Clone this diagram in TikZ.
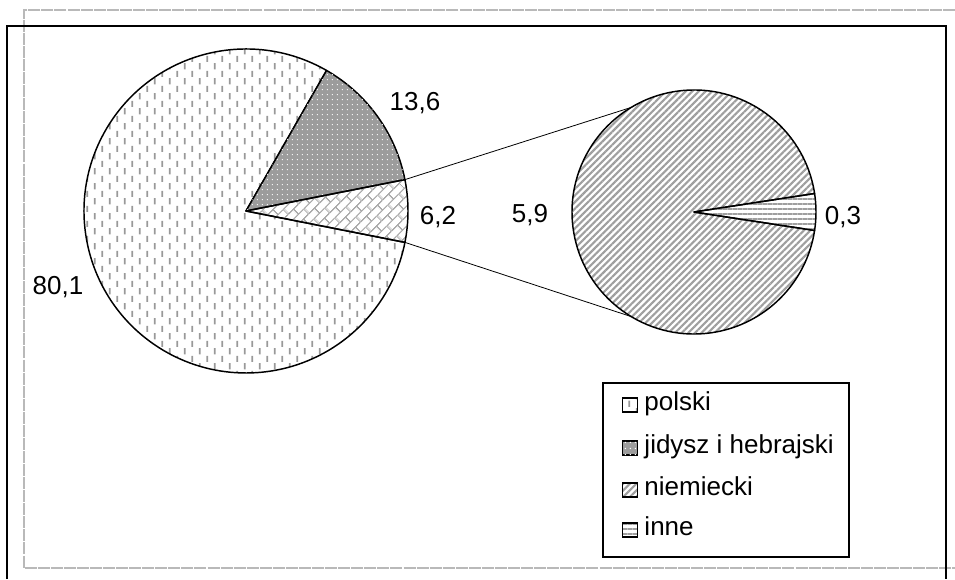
\documentclass[tikz,border=0pt]{standalone}
\usepackage{fontspec}
\setmainfont{Liberation Sans}
\usetikzlibrary{patterns,patterns.meta,positioning}

% fill patterns of the slices
\tikzdeclarepattern{
  name=vdashes,
  type=uncolored,
  bounding box={(0,0) and (11.6pt,11.2pt)},
  tile size={(11.6pt,11.2pt)},
  code={
    \draw[line width=1.2pt] (2.9pt,0.5pt) -- (2.9pt,5.1pt);
    \draw[line width=1.2pt] (8.7pt,6.1pt) -- (8.7pt,10.7pt);
  }
}
\tikzdeclarepattern{
  name=wdots,
  type=uncolored,
  bounding box={(0,0) and (4pt,4pt)},
  tile size={(4pt,4pt)},
  code={
    \fill (2pt,2pt) circle (0.6pt);
  }
}
\tikzdeclarepattern{
  name=dbricks,
  type=uncolored,
  bounding box={(0,0) and (12pt,11pt)},
  tile size={(12pt,11pt)},
  tile transformation={rotate=45},
  code={
    \draw[line width=0.9pt] (0,0) -- (12pt,0) (0,5.5pt) -- (12pt,5.5pt) (0,11pt) -- (12pt,11pt);
    \draw[line width=0.9pt] (0,0) -- (0,5.5pt) (12pt,0) -- (12pt,5.5pt) (6pt,5.5pt) -- (6pt,11pt);
  }
}

\begin{document}
\begin{tikzpicture}[x=0.75pt,y=0.75pt,font=\fontsize{19.5}{23}\selectfont]
    \tikzstyle{slice}=[draw=black,line width=1.1pt,line join=round]
    \tikzstyle{key}=[draw=black,line width=0.8pt,minimum width=11.5pt,minimum height=10.5pt,inner sep=0pt]
    \tikzstyle{val}=[inner sep=0pt]
    \tikzstyle{entry}=[inner sep=0pt,text height=11.5pt,text depth=4pt]
    \tikzstyle{pol}=[pattern=vdashes,pattern color=gray!80]
    \tikzstyle{jid}=[fill=gray!78,postaction={pattern=wdots,pattern color=white}]
    \tikzstyle{oth}=[pattern=dbricks,pattern color=gray!65]
    \tikzstyle{nie}=[pattern={Lines[angle=45,distance=3.5pt,line width=1.6pt]},pattern color=gray!75]
    \tikzstyle{inn}=[pattern={Lines[angle=0,distance=3.75pt,line width=2pt]},pattern color=gray!75]

    \useasboundingbox (0,0) rectangle (955,579);
    \draw [gray!55, line width=1pt, dash pattern=on 9pt off 0.8pt] (955,569) -- (24,569) -- (24,11) -- (955,11);
    \draw [line width=1.5pt] (7,0) -- (7,553) -- (946,553) -- (946,0);

    \coordinate (L) at (246,368);
    \coordinate (R) at (694,367);

    % left pie
    \draw [slice,pol] (L) -- ++(60.18:162) arc[start angle=60.18, end angle=348.83, radius=162] -- cycle;
    \draw [slice,jid] (L) -- ++(11.17:162) arc[start angle=11.17, end angle=60.18, radius=162] -- cycle;
    \draw [slice,oth] (L) -- ++(-11.17:162) arc[start angle=-11.17, end angle=11.17, radius=162] -- cycle;

    % right pie
    \draw [slice,nie] (R) -- ++(8.71:122) arc[start angle=8.71, end angle=351.29, radius=122] -- cycle;
    \draw [slice,inn] (R) -- ++(-8.71:122) arc[start angle=-8.71, end angle=8.71, radius=122] -- cycle;

    \path (L) ++(11.17:162) coordinate (lt);
    \path (L) ++(-11.17:162) coordinate (lb);
    \path (R) ++(121:122) coordinate (rt);
    \path (R) ++(239:122) coordinate (rb);
    \draw [line width=0.6pt] (lt) -- (rt);
    \draw [line width=0.6pt] (lb) -- (rb);

    \node (v136) at (415,476) [val] {13,6};
    \node (v62) at (438,362) [val] {6,2};
    \node (v801) at (58,292) [val] {80,1};
    \node (v59) at (530,364) [val] {5,9};
    \node (v03) at (843,362) [val] {0,3};

    % legend
    \draw [line width=0.8pt, fill=white] (603,22) rectangle (849,196);
    \node (kpol) at (630,174) [key,pol] {};
    \node (kjid) at (630,131) [key,jid] {};
    \node (knie) at (630,89) [key,nie] {};
    \node (kinn) at (630,49) [key,inn] {};
    \node (tpol) [right=4.5pt of kpol, entry] {polski};
    \node (tjid) [right=4.5pt of kjid, entry] {jidysz i hebrajski};
    \node (tnie) [right=4.5pt of knie, entry] {niemiecki};
    \node (tinn) [right=4.5pt of kinn, entry] {inne};
\end{tikzpicture}
\end{document}
